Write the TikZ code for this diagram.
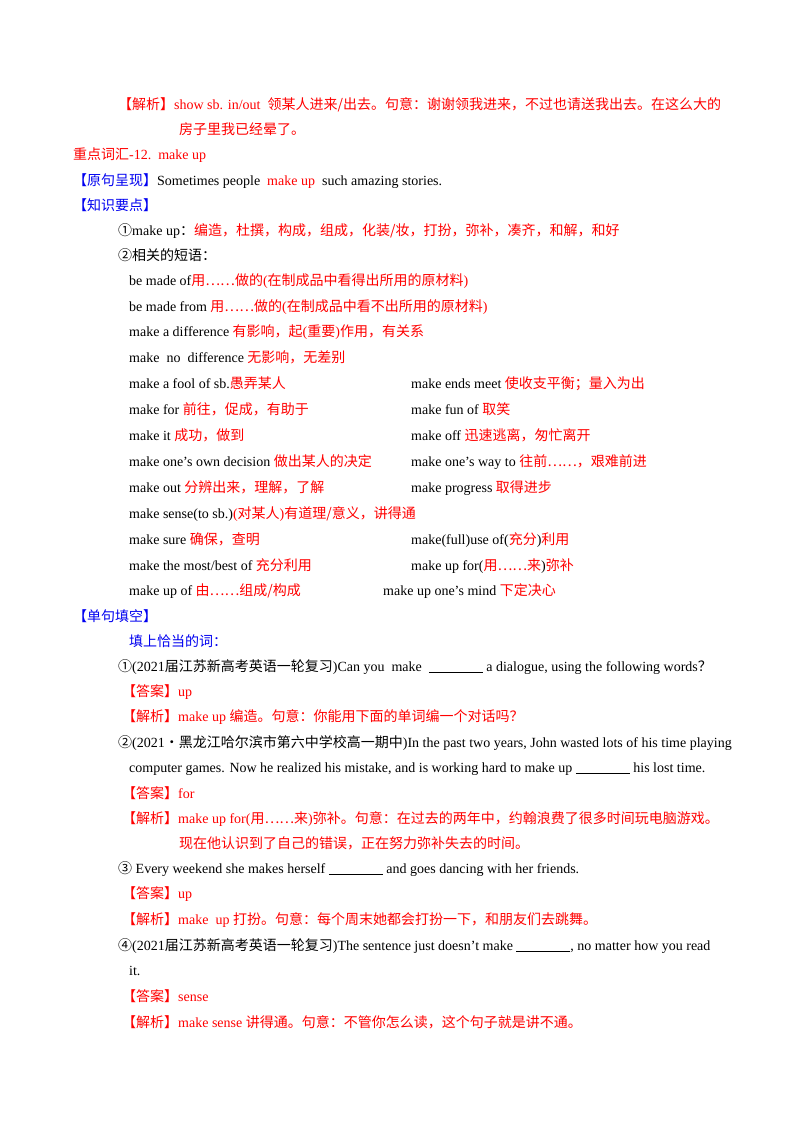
\documentclass[tikz,border=0pt]{standalone}
\usepackage{fontspec}
\setmainfont{Liberation Serif}
\newfontfamily\cjk{Noto Sans CJK SC}
\definecolor{rd}{RGB}{255,0,0}
\definecolor{bl}{RGB}{0,0,240}
\newcommand\z[1]{{\cjk\fontsize{14}{16}\selectfont #1}}
\newcommand\R[1]{\textcolor{rd}{#1}}
\newcommand\B[1]{\textcolor{bl}{#1}}
\newcommand\bl{\underline{\hspace{54pt}}}
\newcommand\T[4]{\node[txt] (#1) at (#2pt,-#3pt) {#4};}
\begin{document}
\begin{tikzpicture}[x=1pt,y=1pt,txt/.style={anchor=base west,inner sep=0pt,font=\fontsize{14}{16}\selectfont}]
\useasboundingbox (0,0) rectangle (800,-1132);
\T{a1}{118}{109}{\R{\z{【解析】}show sb. in/out\ \ \z{领某人进来/出去。句意：谢谢领我进来，不过也请送我出去。在这么大的}}}
\T{a2}{179}{134}{\R{\z{房子里我已经晕了。}}}
\T{a3}{73}{159}{\R{\z{重点词汇}-12.\ \ make up}}
\T{a4}{73}{185}{\B{\z{【原句呈现】}}Sometimes people\ \ \R{make up}\ \ such amazing stories.}
\T{a5}{73}{210}{\B{\z{【知识要点】}}}
\T{a6}{118}{235}{\z{①}make up\z{：}\R{\z{编造，杜撰，构成，组成，化装/妆，打扮，弥补，凑齐，和解，和好}}}
\T{a7}{118}{260}{\z{②相关的短语：}}
\T{b1}{129}{285}{be made of\R{\z{用……做的}(\z{在制成品中看得出所用的原材料})}}
\T{b2}{129}{311}{be made from \R{\z{用……做的}(\z{在制成品中看不出所用的原材料})}}
\T{b3}{129}{336}{make a difference \R{\z{有影响，起}(\z{重要})\z{作用，有关系}}}
\T{b4}{129}{362}{make\ \ no\ \ difference \R{\z{无影响，无差别}}}
\T{b5}{129}{388}{make a fool of sb.\R{\z{愚弄某人}}}
\T{c5}{411}{388}{make ends meet \R{\z{使收支平衡；量入为出}}}
\T{b6}{129}{414}{make for \R{\z{前往，促成，有助于}}}
\T{c6}{411}{414}{make fun of \R{\z{取笑}}}
\T{b7}{129}{440}{make it \R{\z{成功，做到}}}
\T{c7}{411}{440}{make off \R{\z{迅速逃离，匆忙离开}}}
\T{b8}{129}{466}{make one's own decision \R{\z{做出某人的决定}}}
\T{c8}{411}{466}{make one's way to \R{\z{往前……，艰难前进}}}
\T{b9}{129}{492}{make out \R{\z{分辨出来，理解，了解}}}
\T{c9}{411}{492}{make progress \R{\z{取得进步}}}
\T{b10}{129}{518}{make sense(to sb.)\R{(\z{对某人})\z{有道理/意义，讲得通}}}
\T{b11}{129}{544}{make sure \R{\z{确保，查明}}}
\T{c11}{411}{544}{make(full)use of(\R{\z{充分}})\R{\z{利用}}}
\T{b12}{129}{570}{make the most/best of \R{\z{充分利用}}}
\T{c12}{411}{570}{make up for(\R{\z{用……来}})\R{\z{弥补}}}
\T{b13}{129}{595}{make up of \R{\z{由……组成/构成}}}
\T{c13}{383}{595}{make up one's mind \R{\z{下定决心}}}
\T{d1}{73}{621}{\B{\z{【单句填空】}}}
\T{d2}{129}{646}{\B{\z{填上恰当的词：}}}
\T{d3}{118}{671}{\z{①}(2021\z{届江苏新高考英语一轮复习})Can you\ \ make\ \ \bl\ a dialogue, using the following words\z{？}}
\T{d4}{122}{696}{\R{\z{【答案】}up}}
\T{d5}{122}{721}{\R{\z{【解析】}make up \z{编造。句意：你能用下面的单词编一个对话吗？}}}
\T{d6}{118}{747}{\z{②}(2021\z{·黑龙江哈尔滨市第六中学校高一期中})In the past two years, John wasted lots of his time playing}
\T{d7}{129}{772}{computer games. Now he realized his mistake, and is working hard to make up \bl\ his lost time.}
\T{d8}{122}{798}{\R{\z{【答案】}for}}
\T{d9}{122}{823}{\R{\z{【解析】}make up for(\z{用……来})\z{弥补。句意：在过去的两年中，约翰浪费了很多时间玩电脑游戏。}}}
\T{d10}{179}{848}{\R{\z{现在他认识到了自己的错误，正在努力弥补失去的时间。}}}
\T{d11}{118}{873}{\z{③} Every weekend she makes herself \bl\ and goes dancing with her friends.}
\T{d12}{122}{898}{\R{\z{【答案】}up}}
\T{d13}{122}{924}{\R{\z{【解析】}make\ \ up \z{打扮。句意：每个周末她都会打扮一下，和朋友们去跳舞。}}}
\T{d14}{118}{950}{\z{④}(2021\z{届江苏新高考英语一轮复习})The sentence just doesn't make \bl, no matter how you read}
\T{d15}{129}{975}{it.}
\T{d16}{122}{1001}{\R{\z{【答案】}sense}}
\T{d17}{122}{1027}{\R{\z{【解析】}make sense \z{讲得通。句意：不管你怎么读，这个句子就是讲不通。}}}
\end{tikzpicture}
\end{document}
